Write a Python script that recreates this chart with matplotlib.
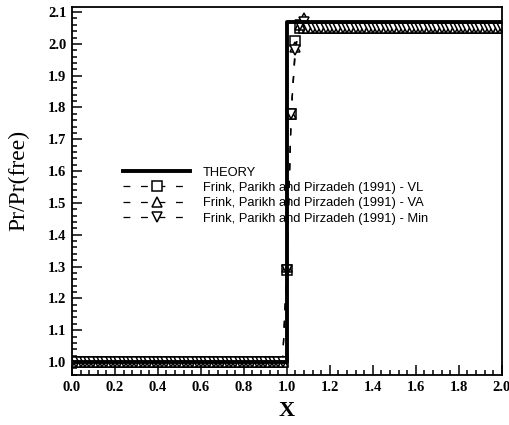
import matplotlib
matplotlib.use("Agg")
import matplotlib.pyplot as plt
from matplotlib.ticker import MultipleLocator, FormatStrFormatter

# cell positions of the computed solution (uniform mesh)
x_grid = [round(0.02 * i, 2) for i in range(101)]

# levels
theory_x = [0.0, 1.0, 1.0, 2.0]
theory_y = [1.0, 1.0, 2.068, 2.068]
pre_level = 1.0
post_level = 2.05

# values inside the shock (x = 1.00 ... 1.08)
shock_x = [1.00, 1.02, 1.04, 1.06, 1.08]
vl_shock = [1.29, 1.78, 2.01, 2.05, 2.05]
va_shock = [1.30, 1.78, 1.99, 2.06, 2.08]
min_shock = [1.29, 1.78, 1.98, 2.06, 2.07]

labels = ["THEORY",
          "Frink, Parikh and Pirzadeh (1991) - VL",
          "Frink, Parikh and Pirzadeh (1991) - VA",
          "Frink, Parikh and Pirzadeh (1991) - Min"]


def series(shock_vals):
    y = []
    for x in x_grid:
        if x < shock_x[0]:
            y.append(pre_level)
        elif x in shock_x:
            y.append(shock_vals[shock_x.index(x)])
        else:
            y.append(post_level)
    return y


plt.rcParams['font.family'] = ['Liberation Serif', 'DejaVu Serif']

fig = plt.figure(figsize=(5.10, 4.25), dpi=100)
ax = fig.add_axes([0.141, 0.1176, 0.843, 0.866])

ax.plot(theory_x, theory_y, color='black', lw=2.8, label=labels[0], zorder=3)
dash = (0, (5.5, 8.5))
ax.plot(x_grid, series(vl_shock), color='black', lw=0.9, ls=dash, marker='s',
        ms=6.5, mfc='white', mec='black', mew=1.1, label=labels[1])
ax.plot(x_grid, series(va_shock), color='black', lw=0.9, ls=dash, marker='^',
        ms=7, mfc='white', mec='black', mew=1.1, label=labels[2])
ax.plot(x_grid, series(min_shock), color='black', lw=0.9, ls=dash, marker='v',
        ms=7, mfc='white', mec='black', mew=1.1, label=labels[3])

ax.set_xlim(0.0, 2.0)
ax.set_ylim(0.959, 2.116)
ax.xaxis.set_major_locator(MultipleLocator(0.2))
ax.xaxis.set_minor_locator(MultipleLocator(0.04))
ax.yaxis.set_major_locator(MultipleLocator(0.1))
ax.yaxis.set_minor_locator(MultipleLocator(0.02))
ax.xaxis.set_major_formatter(FormatStrFormatter('%.1f'))
ax.yaxis.set_major_formatter(FormatStrFormatter('%.1f'))
ax.tick_params(which='both', direction='in', top=False, right=False,
               width=1.1, labelsize=10.5)
ax.tick_params(which='major', length=7, pad=4)
ax.tick_params(which='minor', length=3.6)
for lab in ax.get_xticklabels() + ax.get_yticklabels():
    lab.set_fontweight('bold')
for sp in ax.spines.values():
    sp.set_linewidth(1.3)

ax.set_xlabel("X", fontsize=16, fontweight='bold', labelpad=5)
ax.set_ylabel("Pr/Pr(free)", fontsize=17, labelpad=6)
ax.yaxis.set_label_coords(-0.1, 0.53)

leg = ax.legend(loc='upper left', bbox_to_anchor=(0.119, 0.566), frameon=False,
                borderpad=0, borderaxespad=0, handlelength=5.2, handletextpad=1.0,
                labelspacing=0.25, numpoints=1,
                prop={'family': 'Liberation Sans', 'size': 9.3})

fig.savefig("out.png", dpi=100)
